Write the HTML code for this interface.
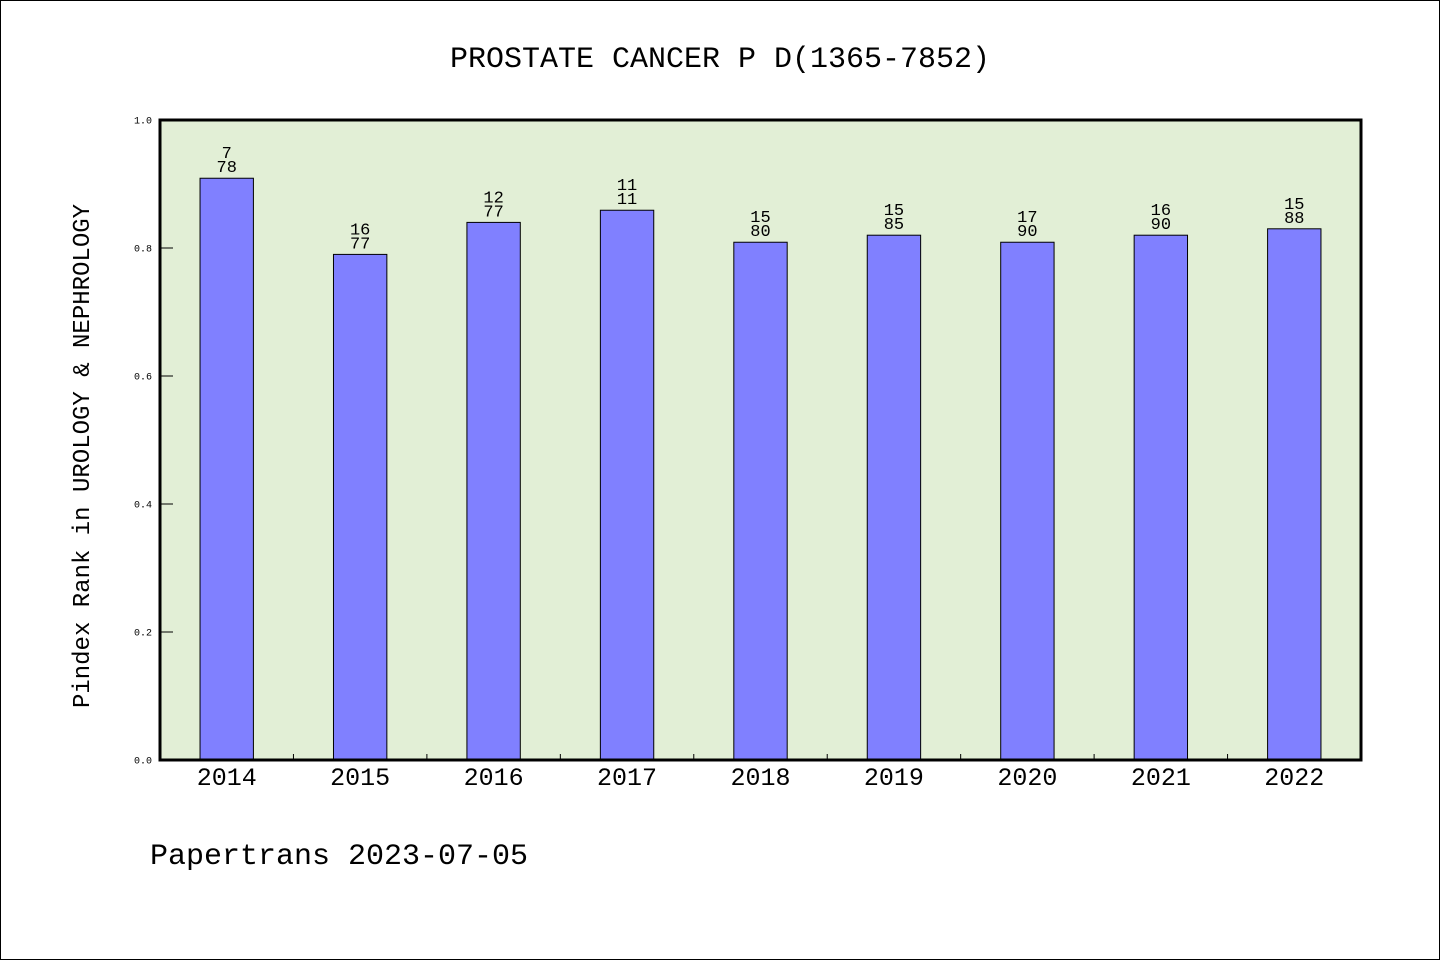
<!DOCTYPE html>
<html><head><meta charset="utf-8"><style>
body{margin:0;background:#fff}
svg{display:block}
text{font-family:"WenQuanYi Zen Hei Mono","WenQuanYi Zen Hei","Liberation Mono",monospace;fill:#000}
</style></head><body>
<svg id="c" width="1440" height="960">
<rect x="0.5" y="0.5" width="1439" height="959" fill="#fff" stroke="#000"/>
<text x="720" y="67" font-size="30" text-anchor="middle">PROSTATE CANCER P D(1365-7852)</text>
<rect x="160" y="120" width="1201" height="640" fill="#e2efd6"/>
<g id="bars"></g>
<g id="axes"></g>
<rect x="160" y="120" width="1201" height="640" fill="none" stroke="#000" stroke-width="3"/>
<text transform="translate(89,456) rotate(-90)" font-size="24" text-anchor="middle">Pindex Rank in UROLOGY &amp; NEPHROLOGY</text>
<text x="150" y="864" font-size="30">Papertrans 2023-07-05</text>
</svg>
<script>
const categories=['2014','2015','2016','2017','2018','2019','2020','2021','2022'];
const values=[0.909,0.79,0.84,0.859,0.809,0.82,0.809,0.82,0.83];
const labelTop=['7','16','12','11','15','15','17','16','15'];
const labelBottom=['78','77','77','11','80','85','90','90','88'];
const yTicks=[0,0.2,0.4,0.6,0.8,1.0];
const X0=160,X1=1361,Y0=760,Y1=120;
const step=(X1-X0)/categories.length;
const xc=i=>X0+step*(i+0.5);
const y=v=>Y0-(Y0-Y1)*v;
const NS='http://www.w3.org/2000/svg';
const bars=document.getElementById('bars'),axes=document.getElementById('axes');
function mk(tag,attrs,parent,txt){const e=document.createElementNS(NS,tag);for(const k in attrs)e.setAttribute(k,attrs[k]);if(txt!=null)e.textContent=txt;parent.appendChild(e);return e;}
const bw=step*0.4;
categories.forEach((c,i)=>{
  const r=mk('rect',{x:xc(i)-bw/2,y:y(values[i]),width:bw,height:Y0-y(values[i]),fill:'#8080ff',stroke:'#000','stroke-width':1},bars);
  
  
  const t1=mk('text',{x:xc(i),y:y(values[i])-20,'font-size':17,'text-anchor':'middle'},bars,labelTop[i]);
  
  
  const t2=mk('text',{x:xc(i),y:y(values[i])-6,'font-size':17,'text-anchor':'middle'},bars,labelBottom[i]);
  
  
  const xl=mk('text',{x:xc(i),y:785,'font-size':25,'text-anchor':'middle'},axes,c);
  
  
  if(i>0){const tk=mk('line',{x1:X0+step*i,x2:X0+step*i,y1:Y0,y2:Y0-6,stroke:'#000'},axes);
  
  }
});
yTicks.forEach(v=>{
  const tk=mk('line',{x1:X0,x2:X0+13,y1:y(v),y2:y(v),stroke:'#000'},axes);
  
  
  const t=mk('text',{x:152,y:y(v)+3.5,'font-size':10,'text-anchor':'end'},axes,v.toFixed(1));
  
  
});
</script>
</body></html>
